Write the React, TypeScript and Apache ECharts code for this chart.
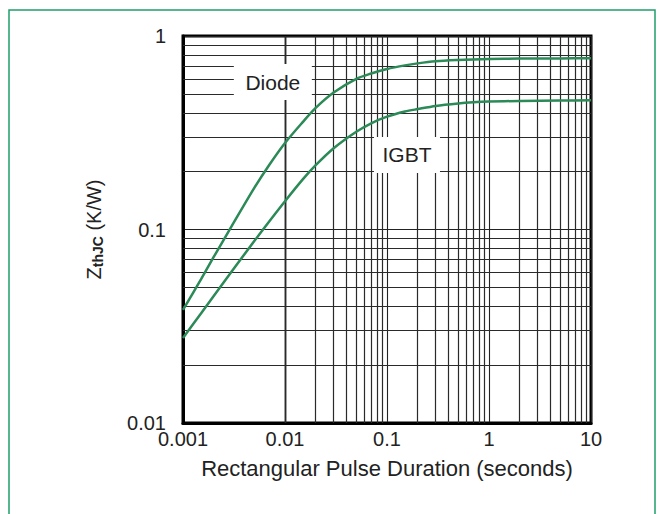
import React, { useEffect, useRef } from "react";
import * as echarts from "echarts";

const pulseX = [0.001, 0.0015, 0.002, 0.003, 0.005, 0.007, 0.01, 0.015, 0.02, 0.03, 0.05, 0.07, 0.1, 0.15, 0.2, 0.3, 0.5, 0.7, 1, 2, 5, 10];
const diodeY = [0.0384, 0.0553, 0.0721, 0.104, 0.164, 0.2155, 0.28, 0.36, 0.425, 0.51, 0.6, 0.64, 0.675, 0.705, 0.722, 0.74, 0.752, 0.757, 0.76, 0.764, 0.766, 0.767];
const igbtY = [0.0275, 0.0368, 0.0453, 0.0606, 0.0871, 0.11, 0.14, 0.182, 0.215, 0.263, 0.32, 0.354, 0.383, 0.407, 0.419, 0.435, 0.448, 0.454, 0.458, 0.462, 0.464, 0.465];

const xTicks = ["0.001", "0.01", "0.1", "1", "10"];
const yTicks = ["0.01", "0.1", "1"];
const minorMultipliers = [2, 3, 4, 5, 6, 7, 8, 9];
const xDecades = [0.001, 0.01, 0.1, 1];
const yDecades = [0.01, 0.1];
const diodeLabelAt = [0.0076, 0.578];
const igbtLabelAt = [0.157, 0.243];

export default function App() {
  const ref = useRef<HTMLDivElement>(null);
  useEffect(() => {
    if (!ref.current) return;
    const chart = echarts.init(ref.current, undefined, { renderer: "svg" });
    const font = "'Liberation Sans', Arial, sans-serif";
    const minorLines: any[] = [];
    xDecades.forEach((d) =>
      minorMultipliers.forEach((m) => minorLines.push({ xAxis: +(d * m).toPrecision(3) }))
    );
    yDecades.forEach((d) =>
      minorMultipliers.forEach((m) => minorLines.push({ yAxis: +(d * m).toPrecision(3) }))
    );
    const green = "#2b8a57";
    const labelPoint = (name: string, coord: number[], w: number) => ({
      coord,
      symbol: "rect",
      symbolSize: [w, 36],
      itemStyle: { color: "#fff" },
      label: {
        show: true,
        formatter: name,
        color: "#222",
        fontSize: 21,
        fontFamily: font,
      },
    });
    chart.setOption({
      animation: false,
      graphic: [
        {
          type: "rect",
          shape: { x: 9, y: 10, width: 646, height: 530 },
          style: { fill: "none", stroke: "#1f9e6b", lineWidth: 1.5 },
          silent: true,
        },
      ],
      grid: {
        left: 183,
        right: 69,
        top: 36,
        bottom: 91,
        show: true,
        borderColor: "#000",
        borderWidth: 3,
      },
      xAxis: {
        type: "log",
        min: 0.001,
        max: 10,
        logBase: 10,
        name: "Rectangular Pulse Duration (seconds)",
        nameLocation: "middle",
        nameGap: 34,
        nameTextStyle: { fontSize: 22, color: "#222", fontFamily: font },
        axisLine: { show: true, lineStyle: { color: "#000", width: 3 } },
        axisTick: { show: false },
        axisLabel: {
          fontSize: 20,
          color: "#222",
          fontFamily: font,
          margin: 6,
          formatter: (v: number) => xTicks.find((t) => Math.abs(parseFloat(t) - v) / v < 1e-6) ?? "",
        },
        splitLine: { show: true, lineStyle: { color: "#222", width: 1.1 } },
      },
      yAxis: {
        type: "log",
        min: 0.01,
        max: 1,
        logBase: 10,
        name: "{z|Z}{s|thJC}{z| (K/W)}",
        nameLocation: "middle",
        nameGap: 78,
        nameRotate: 90,
        nameTextStyle: {
          rich: {
            z: { fontSize: 20, color: "#222", fontFamily: font },
            s: { fontSize: 14, color: "#222", fontFamily: font, fontWeight: "bold", padding: [8, 0, 0, 0] },
          },
        },
        axisLine: { show: true, lineStyle: { color: "#000", width: 3 } },
        axisTick: { show: false },
        axisLabel: {
          fontSize: 20,
          color: "#222",
          fontFamily: font,
          margin: 17,
          formatter: (v: number) => yTicks.find((t) => Math.abs(parseFloat(t) - v) / v < 1e-6) ?? "",
        },
        splitLine: { show: true, lineStyle: { color: "#222", width: 1.1 } },
      },
      series: [
        {
          type: "line",
          name: "grid",
          data: [],
          silent: true,
          markLine: {
            silent: true,
            symbol: "none",
            label: { show: false },
            lineStyle: { color: "#2a2a2a", width: 1.2, type: "solid" },
            data: minorLines,
          },
        },
        {
          type: "line",
          name: "Diode",
          data: pulseX.map((x, i) => [x, diodeY[i]]),
          smooth: 0.3,
          showSymbol: false,
          lineStyle: { color: green, width: 2.5 },
          z: 5,
          markPoint: { silent: true, data: [labelPoint("Diode", diodeLabelAt, 78)] },
        },
        {
          type: "line",
          name: "IGBT",
          data: pulseX.map((x, i) => [x, igbtY[i]]),
          smooth: 0.3,
          showSymbol: false,
          lineStyle: { color: green, width: 2.5 },
          z: 5,
          markPoint: { silent: true, data: [labelPoint("IGBT", igbtLabelAt, 66)] },
        },
      ],
    });
    return () => chart.dispose();
  }, []);
  return (
    <div
      ref={ref}
      style={{ position: "absolute", left: 0, top: 0, width: 660, height: 514, background: "#fff" }}
    />
  );
}
